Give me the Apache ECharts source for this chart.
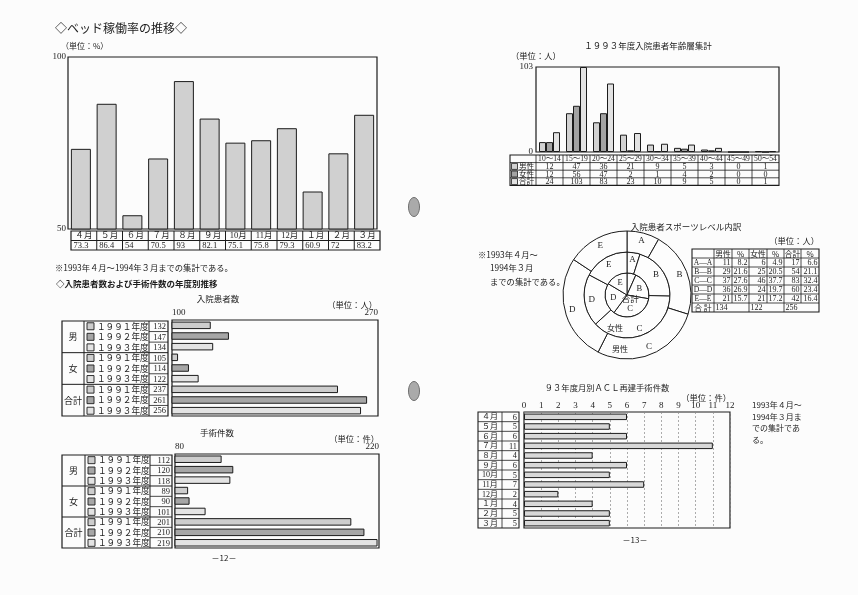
<!DOCTYPE html>
<html><head><meta charset="utf-8">
<script src="https://cdn.jsdelivr.net/npm/echarts@6/dist/echarts.min.js"></script>
<style>html,body{margin:0;padding:0;background:#fcfcfc}#c{width:858px;height:595px}</style>
</head><body><div id="c"></div>
<script>
// ---------- data ----------
const bedMonths = ['４月','５月','６月','７月','８月','９月','10月','11月','12月','１月','２月','３月'];
const bedRates = [73.3, 86.4, 54, 70.5, 93, 82.1, 75.1, 75.8, 79.3, 60.9, 72, 83.2];

const groupLabels = ['男', '女', '合計'];
const yearLabels = ['１９９１年度', '１９９２年度', '１９９３年度'];
const inpatients = [132, 147, 134, 105, 114, 122, 237, 261, 256];
const surgeries = [112, 120, 118, 89, 90, 101, 201, 210, 219];

const ageGroups = ['10～14','15～19','20～24','25～29','30～34','35～39','40～44','45～49','50～54'];
const ageSeriesNames = ['男性', '女性', '合計'];
const ageMale = [12, 47, 36, 21, 9, 5, 3, 0, 1];
const ageFemale = [12, 56, 47, 2, 1, 4, 2, 0, 0];
const ageTotal = [24, 103, 83, 23, 10, 9, 5, 0, 1];

const levels = ['A', 'B', 'C', 'D', 'E'];
const ringNames = ['合計', '女性', '男性'];
const levelMale = [11, 29, 37, 36, 21];
const levelFemale = [6, 25, 46, 24, 21];
const levelTotal = [17, 54, 83, 60, 42];
const levelMalePct = [8.2, 21.6, 27.6, 26.9, 15.7];
const levelFemalePct = [4.9, 20.5, 37.7, 19.7, 17.2];
const levelTotalPct = [6.6, 21.1, 32.4, 23.4, 16.4];

const aclMonths = ['４月','５月','６月','７月','８月','９月','10月','11月','12月','１月','２月','３月'];
const aclCounts = [6, 5, 6, 11, 4, 6, 5, 7, 2, 4, 5, 5];

// ---------- styles ----------
const FONT = '"Liberation Serif","Noto Sans CJK JP",serif';
const JP = '"Noto Sans CJK JP","Liberation Serif",sans-serif';
const INK = '#1c1c1c';
const yearColors = ['#cdcdcd', '#a6a6a6', '#e3e3e3'];
const ageColors = ['#d2d2d2', '#a3a3a3', '#e2e2e2'];
const lbl = {color: INK, fontSize: 9, fontFamily: FONT};

const G = [];
function T(x, y, text, size, align, opts) {
  opts = opts || {};
  G.push({type: 'text', x: x, y: y, silent: true, z: 100,
    style: {text: String(text), fill: INK,
      font: (opts.weight || 'normal') + ' ' + size + 'px ' + (opts.family || FONT),
      align: align || 'left', textAlign: align || 'left',
      verticalAlign: 'middle', textVerticalAlign: 'middle'}});
}
function L(x1, y1, x2, y2, w) {
  G.push({type: 'line', silent: true, z: 100, shape: {x1: x1, y1: y1, x2: x2, y2: y2},
    style: {stroke: INK, lineWidth: w || 1}});
}
function R(x, y, w, h, fill, lw) {
  G.push({type: 'rect', silent: true, z: 100, shape: {x: x, y: y, width: w, height: h},
    style: {fill: fill || 'none', stroke: INK, lineWidth: lw || 1}});
}

// ---------- page decorations ----------
G.push({type: 'ellipse', silent: true, z: 1, shape: {cx: 414, cy: 207, rx: 5.5, ry: 9.5}, style: {fill: '#aaaaaa', stroke: '#707070', lineWidth: 1}});
G.push({type: 'ellipse', silent: true, z: 1, shape: {cx: 414, cy: 391, rx: 5.5, ry: 9.5}, style: {fill: '#aaaaaa', stroke: '#707070', lineWidth: 1}});

// ---------- left page texts ----------
T(55, 28, '◇ベッド稼働率の推移◇', 12, 'left', {family: JP});
T(61, 46, '（単位：%）', 8, 'left', {family: JP});

// bed table
(function () {
  const x0 = 71, cw = 25.75, y0 = 231, rh = 9.5, n = bedMonths.length;
  R(x0, y0, cw * n, rh * 2, null, 1.2);
  L(x0, y0 + rh, x0 + cw * n, y0 + rh);
  for (let i = 1; i < n; i++) L(x0 + i * cw, y0, x0 + i * cw, y0 + 2 * rh);
  bedMonths.forEach((m, i) => T(x0 + i * cw + cw / 2, y0 + rh / 2 + 0.5, m, 8.5, 'center'));
  bedRates.forEach((v, i) => T(x0 + i * cw + 2.5, y0 + rh * 1.5 + 0.5, v, 8.5, 'left'));
})();

T(55, 268, '※1993年４月～1994年３月までの集計である。', 8.3, 'left', {family: JP});
T(56, 284, '◇入院患者数および手術件数の年度別推移', 8.5, 'left', {family: JP, weight: 'bold'});

T(218, 299, '入院患者数', 8.5, 'center', {family: JP});
T(377, 305, '（単位：人）', 8.3, 'right', {family: JP});
T(217, 433, '手術件数', 8.5, 'center', {family: JP});
T(379, 439, '（単位：件）', 8.3, 'right', {family: JP});
T(224, 558, '－12－', 8, 'center', {family: JP});

function groupTable(x0, xg, xv, x1, top, h, vals) {
  const n = vals.length, rh = h / n;
  R(x0, top, x1 - x0, h, null, 1.2);
  L(xg, top, xg, top + h);
  L(xv, top, xv, top + h);
  for (let g = 1; g < 3; g++) L(x0, top + g * 3 * rh, x1, top + g * 3 * rh);
  for (let r = 1; r < n; r++) if (r % 3) L(xv, top + r * rh, x1, top + r * rh, 0.8);
  groupLabels.forEach((g, gi) => T((x0 + xg) / 2, top + (gi * 3 + 1.5) * rh, g, 9, 'center', {family: JP}));
  vals.forEach((v, r) => {
    const cy = top + (r + 0.5) * rh;
    R(xg + 3, cy - 3.5, 7, 7, yearColors[r % 3], 0.9);
    T(xg + 13, cy, yearLabels[r % 3], 8.6, 'left', {family: JP});
    T(x1 - 2, cy + 0.5, v, 8.5, 'right');
  });
}
groupTable(62, 84, 149, 168, 321, 95, inpatients);
groupTable(62, 85, 150, 172, 455, 93, surgeries);

// ---------- right page ----------
T(648, 46, '１９９３年度入院患者年齢層集計', 8.5, 'center', {family: JP});
T(511, 56, '（単位：人）', 8.3, 'left', {family: JP});

// age table
(function () {
  const x0 = 510, gx = 536, cw = 27, y0 = 155, rh = 7.6, n = ageGroups.length;
  const x1 = gx + cw * n;
  R(x0, y0, x1 - x0, rh * 4, null, 1.1);
  for (let r = 1; r < 4; r++) L(x0, y0 + r * rh, x1, y0 + r * rh, 0.8);
  for (let i = 0; i < n; i++) L(gx + i * cw, y0, gx + i * cw, y0 + 4 * rh, 0.8);
  ageGroups.forEach((a, i) => T(gx + i * cw + cw / 2, y0 + rh / 2 + 0.5, a, 7.6, 'center'));
  const rows = [ageMale, ageFemale, ageTotal];
  rows.forEach((vals, r) => {
    const cy = y0 + (r + 1.5) * rh;
    R(x0 + 1.5, cy - 3, 6, 6, ageColors[r], 0.8);
    T(x0 + 9, cy, ageSeriesNames[r], 7.6, 'left', {family: JP});
    vals.forEach((v, i) => T(gx + i * cw + cw / 2, cy + 0.5, v, 8, 'center'));
  });
})();

// sports level
T(686, 227, '入院患者スポーツレベル内訳', 8.5, 'center', {family: JP});
T(478, 255, '※1993年４月～', 8.3, 'left', {family: JP});
T(490, 268, '1994年３月', 8.3, 'left', {family: JP});
T(490, 282, 'までの集計である。', 8.3, 'left', {family: JP});
T(819, 241, '（単位：人）', 8.3, 'right', {family: JP});
T(615, 328, ringNames[1], 8, 'center', {family: JP});
T(620, 349, ringNames[2], 8, 'center', {family: JP});

(function () {
  const sx = [692, 714, 732, 749, 767, 784, 801, 819];
  const y0 = 249, rh = 9, nr = levels.length + 2;
  R(sx[0], y0, sx[7] - sx[0], rh * nr, null, 1.1);
  for (let r = 1; r < nr; r++) L(sx[0], y0 + r * rh, sx[7], y0 + r * rh, 0.8);
  for (let c = 1; c < 7; c++) {
    const bottom = (c % 2 === 1) ? y0 + nr * rh : y0 + (nr - 1) * rh;
    L(sx[c], y0, sx[c], bottom, 0.8);
  }
  const head = ['', '男性', '%', '女性', '%', '合計', '%'];
  head.forEach((h, c) => { if (h) T((sx[c] + sx[c + 1]) / 2, y0 + rh / 2 + 0.5, h, 7.8, 'center', {family: JP}); });
  levels.forEach((lv, i) => {
    const cy = y0 + (i + 1.5) * rh + 0.5;
    T((sx[0] + sx[1]) / 2, cy, lv + '—' + lv, 7.6, 'center');
    const vals = [levelMale[i], levelMalePct[i], levelFemale[i], levelFemalePct[i], levelTotal[i], levelTotalPct[i]];
    vals.forEach((v, c) => {
      const s = (c % 2 === 1) ? Number(v).toFixed(1) : String(v);
      T(sx[c + 2] - 1.5, cy, s, 8, 'right');
    });
  });
  const cyT = y0 + (nr - 0.5) * rh + 0.5;
  T((sx[0] + sx[1]) / 2, cyT, '合 計', 7.8, 'center', {family: JP});
  const sum = a => a.reduce((p, q) => p + q, 0);
  T(sx[1] + 1.5, cyT, sum(levelMale), 8, 'left');
  T(sx[3] + 1.5, cyT, sum(levelFemale), 8, 'left');
  T(sx[5] + 1.5, cyT, sum(levelTotal), 8, 'left');
})();

// ACL
T(607, 388, '９３年度月別ＡＣＬ再建手術件数', 8.3, 'center', {family: JP});
T(731, 398, '（単位：件）', 8.3, 'right', {family: JP});
T(752, 405, '1993年４月～', 8, 'left', {family: JP});
T(752, 416.5, '1994年３月ま', 8, 'left', {family: JP});
T(752, 428, 'での集計であ', 8, 'left', {family: JP});
T(752, 439.5, 'る。', 8, 'left', {family: JP});
T(635, 540, '－13－', 8, 'center', {family: JP});

(function () {
  const x0 = 478, xm = 502, x1 = 519, y0 = 412, h = 116, n = aclMonths.length, rh = h / n;
  R(x0, y0, x1 - x0, h, null, 1.1);
  L(xm, y0, xm, y0 + h, 0.8);
  for (let r = 1; r < n; r++) L(x0, y0 + r * rh, x1, y0 + r * rh, 0.8);
  aclMonths.forEach((m, r) => T((x0 + xm) / 2, y0 + (r + 0.5) * rh + 0.5, m, 8, 'center'));
  aclCounts.forEach((v, r) => T(x1 - 2, y0 + (r + 0.5) * rh + 0.5, v, 8.3, 'right'));
})();

// ---------- chart ----------
const rows9 = [];
groupLabels.forEach(g => yearLabels.forEach(y => rows9.push(g + y)));

function hidden(extra) {
  return Object.assign({axisLine: {show: false}, axisTick: {show: false}, axisLabel: {show: false}, splitLine: {show: false}}, extra);
}
const gridBase = {show: true, borderColor: INK, borderWidth: 1.2, backgroundColor: 'transparent', containLabel: false, outerBoundsMode: 'none'};
const barBorder = {borderColor: INK, borderWidth: 1};

const pieBase = {
  type: 'pie', center: [627, 295], startAngle: 90, clockwise: true, silent: true,
  avoidLabelOverlap: false, labelLine: {show: false}, emphasis: {disabled: true},
  itemStyle: {color: '#fdfdfd', borderColor: INK, borderWidth: 1}
};
function pieData(vals) { return levels.map((l, i) => ({name: l, value: vals[i]})); }

const chart = echarts.init(document.getElementById('c'), null, {renderer: 'canvas'});
chart.setOption({
  backgroundColor: '#fcfcfc',
  animation: false,
  textStyle: {fontFamily: FONT},
  grid: [
    Object.assign({left: 68, top: 57, width: 309, height: 172}, gridBase),
    Object.assign({left: 172, top: 320, width: 206, height: 96}, gridBase),
    Object.assign({left: 175, top: 454, width: 204, height: 94}, gridBase),
    Object.assign({left: 536, top: 67, width: 243, height: 85}, gridBase),
    Object.assign({left: 524, top: 412, width: 206, height: 116}, gridBase)
  ],
  xAxis: [
    hidden({gridIndex: 0, type: 'category', data: bedMonths}),
    {gridIndex: 1, type: 'value', position: 'top', min: 100, max: 270, interval: 170,
      axisLine: {show: false}, axisTick: {show: false}, splitLine: {show: false},
      axisLabel: Object.assign({margin: 3, alignMinLabel: 'left', alignMaxLabel: 'right'}, lbl)},
    {gridIndex: 2, type: 'value', position: 'top', min: 80, max: 220, interval: 140,
      axisLine: {show: false}, axisTick: {show: false}, splitLine: {show: false},
      axisLabel: Object.assign({margin: 3, alignMinLabel: 'left', alignMaxLabel: 'right'}, lbl)},
    hidden({gridIndex: 3, type: 'category', data: ageGroups}),
    {gridIndex: 4, type: 'value', position: 'top', min: 0, max: 12, interval: 1,
      axisLine: {show: false}, axisTick: {show: false},
      splitLine: {show: true, lineStyle: {color: '#8a8a8a', type: [2, 2], width: 0.7}},
      axisLabel: Object.assign({margin: 2}, lbl)}
  ],
  yAxis: [
    {gridIndex: 0, type: 'value', min: 50, max: 100, interval: 50,
      axisLine: {show: false}, axisTick: {show: false}, splitLine: {show: false},
      axisLabel: Object.assign({margin: 2}, lbl)},
    hidden({gridIndex: 1, type: 'category', inverse: true, data: rows9}),
    hidden({gridIndex: 2, type: 'category', inverse: true, data: rows9}),
    {gridIndex: 3, type: 'value', min: 0, max: 103, interval: 103,
      axisLine: {show: false}, axisTick: {show: false}, splitLine: {show: false},
      axisLabel: Object.assign({margin: 3}, lbl)},
    hidden({gridIndex: 4, type: 'category', inverse: true, data: aclMonths})
  ],
  series: [
    {type: 'bar', name: 'ベッド稼働率', xAxisIndex: 0, yAxisIndex: 0, data: bedRates, barWidth: 20, silent: true,
      itemStyle: Object.assign({color: '#d0d0d0'}, barBorder)},
    {type: 'bar', name: '入院患者数', xAxisIndex: 1, yAxisIndex: 1, barWidth: 7.5, silent: true,
      data: inpatients.map((v, i) => ({value: v, itemStyle: {color: yearColors[i % 3]}})),
      itemStyle: barBorder},
    {type: 'bar', name: '手術件数', xAxisIndex: 2, yAxisIndex: 2, barWidth: 7.5, silent: true,
      data: surgeries.map((v, i) => ({value: v, itemStyle: {color: yearColors[i % 3]}})),
      itemStyle: barBorder},
    {type: 'bar', name: ageSeriesNames[0], xAxisIndex: 3, yAxisIndex: 3, data: ageMale, barWidth: 7, barGap: '0%', silent: true,
      itemStyle: Object.assign({color: ageColors[0]}, barBorder)},
    {type: 'bar', name: ageSeriesNames[1], xAxisIndex: 3, yAxisIndex: 3, data: ageFemale, barWidth: 7, barGap: '0%', silent: true,
      itemStyle: Object.assign({color: ageColors[1]}, barBorder)},
    {type: 'bar', name: ageSeriesNames[2], xAxisIndex: 3, yAxisIndex: 3, data: ageTotal, barWidth: 7, barGap: '0%', silent: true,
      itemStyle: Object.assign({color: ageColors[2]}, barBorder)},
    Object.assign({}, pieBase, {name: ringNames[0], radius: [0, 22], data: pieData(levelTotal),
      labelLayout: p => (p.dataIndex === 2 ? {dx: -2, dy: -4} : {}),
      label: {position: 'inside', color: INK, fontSize: 8.5, fontFamily: FONT, lineHeight: 9,
        formatter: p => p.name === 'A' ? '' : (p.name === 'C' ? p.seriesName + '\n' + p.name : p.name)}}),
    Object.assign({}, pieBase, {name: ringNames[1], radius: [22, 43], data: pieData(levelFemale),
      label: {position: 'inside', color: INK, fontSize: 9, fontFamily: FONT, formatter: '{b}'}}),
    Object.assign({}, pieBase, {name: ringNames[2], radius: [43, 64], data: pieData(levelMale),
      label: {position: 'inside', color: INK, fontSize: 9, fontFamily: FONT, formatter: '{b}'}}),
    {type: 'bar', name: 'ACL再建手術件数', xAxisIndex: 4, yAxisIndex: 4, data: aclCounts, barWidth: 6.5, silent: true,
      itemStyle: Object.assign({color: '#d8d8d8'}, barBorder)}
  ],
  graphic: {elements: G}
});
</script>
</body></html>
